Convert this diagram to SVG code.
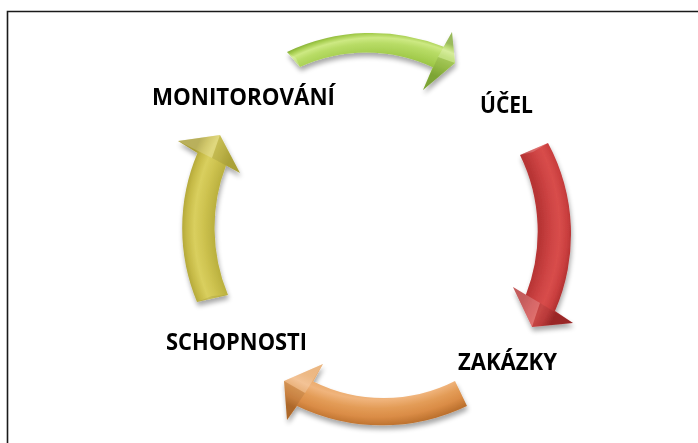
<svg xmlns="http://www.w3.org/2000/svg" width="698" height="443" viewBox="0 0 698 443">
<style>
.lbl{font-family:"Open Sans",Lato,"Liberation Sans",sans-serif;font-weight:bold;font-size:23px;fill:#000}
.frame{stroke:#1a1a1a;stroke-width:1.6;fill:none}
.hi{fill:#fff;opacity:0.2}
.lo{fill:#000;opacity:0.08}
</style>
<defs>
<filter id="sh" x="-20%" y="-20%" width="140%" height="150%">
<feGaussianBlur in="SourceAlpha" stdDeviation="2.5"/>
<feOffset dx="1" dy="4" result="b"/>
<feComponentTransfer><feFuncA type="linear" slope="0.35"/></feComponentTransfer>
<feMerge><feMergeNode/><feMergeNode in="SourceGraphic"/></feMerge>
</filter>
<radialGradient id="gG" gradientUnits="userSpaceOnUse" cx="377" cy="228" r="220">
<stop offset="0" stop-color="#79a42e"/><stop offset="0.74" stop-color="#88b33a"/><stop offset="0.79" stop-color="#a2cb4c"/><stop offset="0.84" stop-color="#b8dc66"/><stop offset="0.865" stop-color="#cde983"/><stop offset="0.885" stop-color="#a4cc4c"/><stop offset="0.9" stop-color="#82ab34"/><stop offset="1" stop-color="#79a42e"/>
</radialGradient>
<radialGradient id="gR" gradientUnits="userSpaceOnUse" cx="377" cy="228" r="220">
<stop offset="0" stop-color="#a42828"/><stop offset="0.74" stop-color="#b73434"/><stop offset="0.79" stop-color="#cd4343"/><stop offset="0.83" stop-color="#d84d4b"/><stop offset="0.865" stop-color="#ca3f3f"/><stop offset="0.9" stop-color="#a82c2c"/><stop offset="1" stop-color="#a42828"/>
</radialGradient>
<radialGradient id="gO" gradientUnits="userSpaceOnUse" cx="377" cy="228" r="220">
<stop offset="0" stop-color="#c47834"/><stop offset="0.74" stop-color="#e9a867"/><stop offset="0.78" stop-color="#f0b47c"/><stop offset="0.82" stop-color="#e39c57"/><stop offset="0.86" stop-color="#da8c46"/><stop offset="0.9" stop-color="#bc712e"/><stop offset="1" stop-color="#bc712e"/>
</radialGradient>
<radialGradient id="gY" gradientUnits="userSpaceOnUse" cx="377" cy="228" r="220">
<stop offset="0" stop-color="#a89c33"/><stop offset="0.74" stop-color="#bab03e"/><stop offset="0.79" stop-color="#cec350"/><stop offset="0.83" stop-color="#d9cf5e"/><stop offset="0.865" stop-color="#c6ba47"/><stop offset="0.9" stop-color="#a89d32"/><stop offset="1" stop-color="#a89c33"/>
</radialGradient>
</defs>
<rect width="698" height="443" fill="#fff"/>
<path class="frame" d="M7.5,443 V11.5 H698"/>
<g id="connectors" filter="url(#sh)">
<g id="arrow-green">
<path fill="url(#gG)" d="M287,52 A195,193.5 0 0 1 443.7,46.7 L452,32 L455,63 L423,90 L432.7,67.2 A163,169 0 0 0 300,67 Z"/>
<path class="hi" d="M452,32 L455,63 L438,57 Z"/>
<path class="lo" d="M423,90 L455,63 L438,57 Z"/>
<path class="hi" d="M287,52 L300,67 L296,58 Z"/>
</g>
<g id="arrow-red">
<path fill="url(#gR)" d="M548,143 A195,193.5 0 0 1 555,311 L573,323 L532,327 L513,287 L525.9,294.7 A163,169 0 0 0 520,155 Z"/>
<path class="hi" d="M513,287 L532,327 L540,303 Z"/>
<path class="lo" d="M573,323 L532,327 L540,303 Z"/>
<path class="hi" d="M520,155 L548,143 L533,152 Z"/>
</g>
<g id="arrow-orange">
<path fill="url(#gO)" d="M467,406 A195,193.5 0 0 1 297,406 L287,420 L284,381 L323,364 L313.3,381.6 A163,169 0 0 0 455,381 Z"/>
<path class="hi" d="M323,364 L284,381 L305,393 Z"/>
<path class="lo" d="M287,420 L284,381 L305,393 Z"/>
<path class="lo" d="M455,381 L467,406 L459,390 Z"/>
</g>
<g id="arrow-yellow">
<path fill="url(#gY)" d="M197,302 A195,193.5 0 0 1 197.5,152.9 L178,141 L220,135 L240,173 L226,165.5 A163,169 0 0 0 228,295 Z"/>
<path class="hi" d="M178,141 L220,135 L212,158 Z"/>
<path class="lo" d="M240,173 L220,135 L212,158 Z"/>
<path class="lo" d="M197,302 L228,295 L212,296 Z"/>
</g>
</g>
<g id="node-monitorovani"><text class="lbl" x="152" y="105" textLength="183" lengthAdjust="spacingAndGlyphs">MONITOROVÁNÍ</text></g>
<g id="node-ucel"><text class="lbl" x="480" y="113" textLength="53" lengthAdjust="spacingAndGlyphs">ÚČEL</text></g>
<g id="node-zakazky"><text class="lbl" x="458" y="370" textLength="99" lengthAdjust="spacingAndGlyphs">ZAKÁZKY</text></g>
<g id="node-schopnosti"><text class="lbl" x="166" y="350" textLength="141" lengthAdjust="spacingAndGlyphs">SCHOPNOSTI</text></g>
</svg>
